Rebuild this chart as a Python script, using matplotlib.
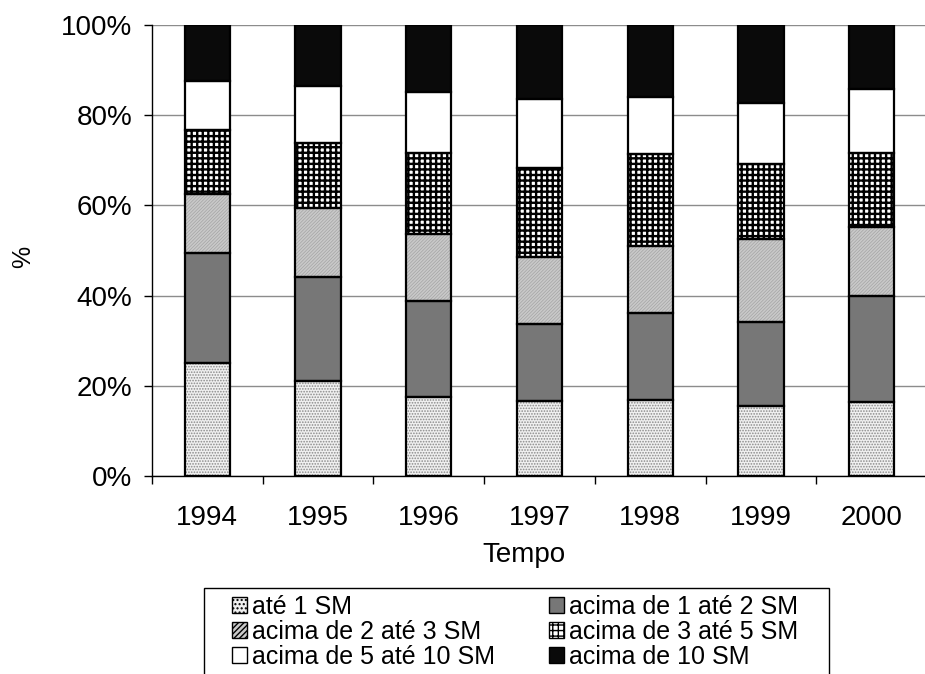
import matplotlib
matplotlib.use("Agg")
import matplotlib.pyplot as plt
import numpy as np
from matplotlib.patches import Patch, Rectangle
from matplotlib.ticker import FuncFormatter, FixedLocator

plt.rcParams['font.family'] = ['Liberation Sans', 'DejaVu Sans']

years = ["1994", "1995", "1996", "1997", "1998", "1999", "2000"]
labels = ["até 1 SM", "acima de 1 até 2 SM", "acima de 2 até 3 SM",
          "acima de 3 até 5 SM", "acima de 5 até 10 SM", "acima de 10 SM"]
ate1 = [25.0, 21.1, 17.5, 16.7, 16.9, 15.5, 16.5]
de1a2 = [24.4, 23.0, 21.2, 16.9, 19.2, 18.6, 23.4]
de2a3 = [13.1, 15.3, 14.9, 15.0, 14.9, 18.4, 15.4]
de3a5 = [14.2, 14.5, 18.0, 19.8, 20.5, 16.7, 16.3]
de5a10 = [10.9, 12.6, 13.5, 15.3, 12.6, 13.6, 14.1]
acima10 = [12.4, 13.5, 14.9, 16.3, 15.9, 17.2, 14.3]
series = [ate1, de1a2, de2a3, de3a5, de5a10, acima10]

# styles: facecolor, hatch, hatch colour, hatch linewidth, legend hatch
styles = [
    ("#f0f0f0", "......", "#8a8a8a", 0.8, "...."),
    ("#777777", "", "#777777", 0.8, ""),
    ("#c9c9c9", "//////////", "#a4a4a4", 0.5, "//////"),
    ("#ffffff", "+++", "#000000", 1.7, "+++"),
    ("#ffffff", "", "#ffffff", 0.8, ""),
    ("#0a0a0a", "", "#0a0a0a", 0.8, ""),
]

fig = plt.figure(figsize=(9.25, 6.74), dpi=100)
ax = fig.add_axes([152/925, 198/674, 775/925, 451/674])

x = np.arange(len(years))
width = 0.41
bottom = np.zeros(len(years))
handles = []
for vals, lab, (fc, hatch, hc, hlw, lh) in zip(series, labels, styles):
    v = np.array(vals)
    with plt.rc_context({'hatch.linewidth': hlw}):
        ax.bar(x, v, width, bottom=bottom, color=fc, hatch=hatch,
               edgecolor=hc, linewidth=0, zorder=3)
    with plt.rc_context({'hatch.linewidth': min(hlw, 1.0)}):
        handles.append(Patch(facecolor=fc, hatch=lh, edgecolor="black",
                             linewidth=1.0, label=lab))
    ax.bar(x, v, width, bottom=bottom, fill=False, edgecolor="black",
           linewidth=1.6, zorder=4)
    bottom += v

ax.set_xlim(-0.5, len(years) - 0.5)
ax.set_ylim(0, 100)
ax.set_yticks([0, 20, 40, 60, 80, 100])
ax.yaxis.set_major_formatter(FuncFormatter(lambda v, p: f"{int(v)}%"))
ax.set_xticks(x)
ax.set_xticklabels(years)
ax.xaxis.set_minor_locator(FixedLocator(np.arange(-0.5, len(years), 1.0)))
ax.tick_params(axis='x', which='major', length=0, pad=21, labelsize=20)
ax.tick_params(axis='x', which='minor', length=6, width=1, direction='out')
ax.tick_params(axis='y', length=6, width=1, direction='out', pad=8, labelsize=20)

ax.yaxis.grid(True, color="#8c8c8c", linewidth=1.0, zorder=0)
ax.set_axisbelow(True)
for s in ["top", "right"]:
    ax.spines[s].set_visible(False)
ax.spines["left"].set_linewidth(1.0)
ax.spines["bottom"].set_linewidth(1.0)

fig.text(524/925, (674-542)/674, "Tempo", ha="center", va="top", fontsize=20)
fig.text(23/925, (674-257)/674, "%", ha="center", va="center", rotation=90, fontsize=18)

# legend filled row-wise like the reference
order = [0, 2, 4, 1, 3, 5]
leg = fig.legend(handles=[handles[i] for i in order], loc="upper left", ncol=2,
                 bbox_to_anchor=(232/925, (674-595)/674),
                 borderaxespad=0, borderpad=0, fontsize=18,
                 frameon=False,
                 handlelength=0.6, handleheight=0.6, handletextpad=0.2,
                 labelspacing=0.04, columnspacing=2.15)
fig.patches.append(Rectangle((204/925, -0.02), 625/925, (674-588)/674 + 0.02,
                             transform=fig.transFigure, fill=False,
                             edgecolor="black", linewidth=1.0))

fig.savefig("out.png", dpi=100)
